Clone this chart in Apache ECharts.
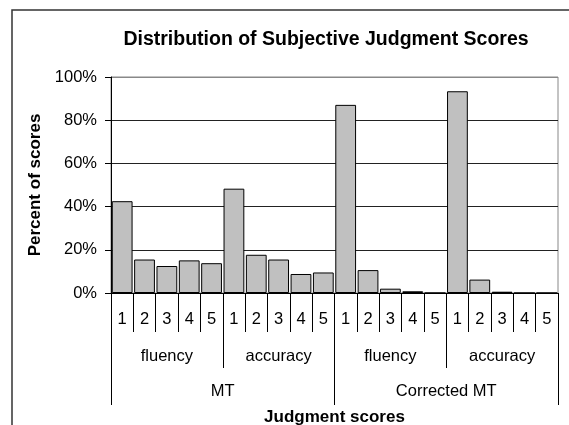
<!DOCTYPE html>
<html>
<head>
<meta charset="utf-8">
<script src="https://cdn.jsdelivr.net/npm/echarts@6/dist/echarts.min.js"></script>
<style>
  html, body { margin: 0; padding: 0; background: #fff; }
  #chart { width: 569px; height: 425px; }
</style>
</head>
<body>
<div id="chart"></div>
<script>
// judgment score labels, criteria and system groups
var scores = ['1', '2', '3', '4', '5']
var criteria = ['fluency', 'accuracy', 'fluency', 'accuracy']
var systems = ['MT', 'Corrected MT']
// percent of scores, in order MT fluency, MT accuracy, Corrected fluency, Corrected accuracy
var percents = [42.5, 15.5, 12.5, 15.1, 13.8,
  48.3, 17.7, 15.5, 8.8, 9.5,
  87.1, 10.6, 2.0, 0.8, 0,
  93.4, 6.2, 0.6, 0, 0]
var yTicks = [0, 20, 40, 60, 80, 100]

var font = "'Liberation Sans', Arial, sans-serif"
var scoreCats = []
criteria.forEach(function () {
  scores.forEach(function (s) { scoreCats.push(s) })
})

var chart = echarts.init(document.getElementById('chart'))
var option = {
  animation: false,
  textStyle: { fontFamily: font },
  title: {
    text: 'Distribution of Subjective Judgment Scores',
    left: 321,
    top: 25,
    textAlign: 'center',
    textStyle: { fontFamily: font, fontSize: 19.5, fontWeight: 'bold', color: '#000' }
  },
  graphic: [{
    type: 'rect',
    shape: { x: 12, y: 10, width: 620, height: 500 },
    style: { fill: 'none', stroke: '#333', lineWidth: 1.5 },
    silent: true
  }],
  grid: {
    left: 111,
    right: 11,
    top: 77,
    bottom: 132,
    containLabel: false,
    outerBoundsMode: 'none',
    show: true,
    borderColor: '#888',
    borderWidth: 1
  },
  xAxis: [
    {
      type: 'category',
      position: 'bottom',
      data: scoreCats,
      axisLine: { show: true, lineStyle: { color: '#000', width: 1 } },
      axisTick: { show: true, interval: 0, length: 39, lineStyle: { color: '#000', width: 1 } },
      axisLabel: { interval: 0, margin: 18, fontSize: 16.5, color: '#000', fontFamily: font }
    },
    {
      type: 'category',
      position: 'bottom',
      data: criteria,
      axisLine: { show: false },
      axisTick: { show: true, interval: 0, length: 75, lineStyle: { color: '#000', width: 1 } },
      axisLabel: { interval: 0, margin: 55, fontSize: 16.5, color: '#000', fontFamily: font }
    },
    {
      type: 'category',
      position: 'bottom',
      data: systems,
      name: 'Judgment scores',
      nameLocation: 'middle',
      nameGap: 116,
      nameTextStyle: { fontSize: 17, fontWeight: 'bold', color: '#000', fontFamily: font },
      axisLine: { show: false },
      axisTick: { show: true, interval: 0, length: 112, lineStyle: { color: '#000', width: 1 } },
      axisLabel: { interval: 0, margin: 90, fontSize: 16.5, color: '#000', fontFamily: font }
    }
  ],
  yAxis: {
    type: 'value',
    min: yTicks[0],
    max: yTicks[yTicks.length - 1],
    interval: 20,
    name: 'Percent of scores',
    nameLocation: 'middle',
    nameGap: 66,
    nameTextStyle: { fontSize: 17, fontWeight: 'bold', color: '#000', fontFamily: font },
    axisLine: { show: true, lineStyle: { color: '#000', width: 1 } },
    axisTick: { show: true, length: 6, lineStyle: { color: '#000' } },
    axisLabel: { margin: 14, fontSize: 16.5, color: '#000', fontFamily: font, formatter: '{value}%' },
    splitLine: { lineStyle: { color: ['#222', '#222', '#222', '#222', '#222', '#888'], width: 1 } }
  },
  series: [{
    type: 'bar',
    xAxisIndex: 0,
    data: percents,
    barCategoryGap: '7%',
    itemStyle: { color: '#c0c0c0', borderColor: '#000', borderWidth: 1 }
  }]
}
chart.setOption(option)
</script>
</body>
</html>
